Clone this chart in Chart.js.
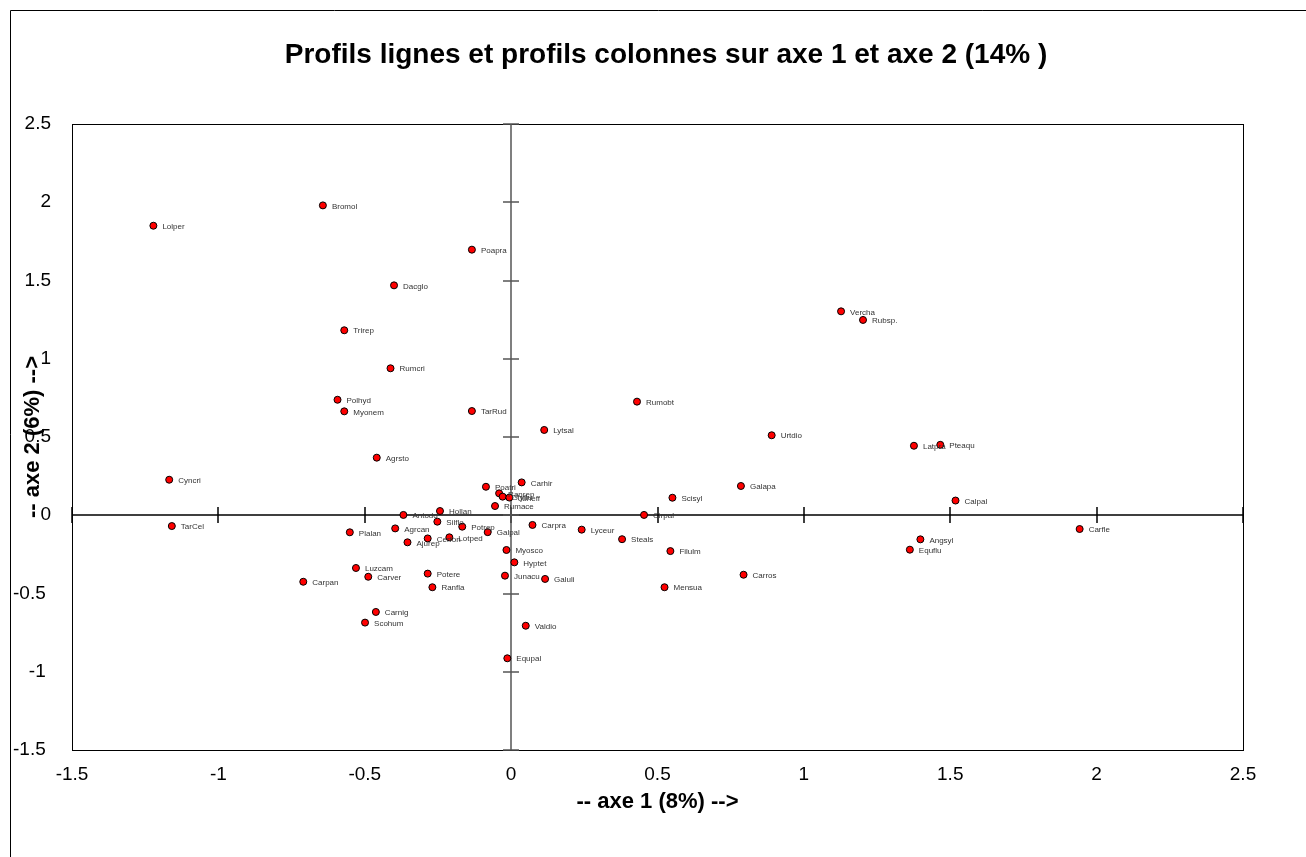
<!DOCTYPE html>
<html lang="fr">
<head>
    <meta charset="UTF-8">
    <title>Profils lignes et profils colonnes</title>
    <script src="https://cdn.jsdelivr.net/npm/chart.js"></script>
    <style>
        body { margin: 0; background: #fff; }
    </style>
</head>
<body>
    <canvas id="afcChart" width="1306" height="857"></canvas>

    <script>
        // Coordonnees des profils (axe 1, axe 2)
        const especes = ['Lolper', 'Bromol', 'Poapra', 'Dacglo', 'Trirep', 'Rumcri', 'Polhyd', 'Myonem', 'TarRud', 'Agrsto',
            'Cyncri', 'TarCel', 'Plalan', 'Carpan', 'Luzcam', 'Carver', 'Potere', 'Ranfla', 'Carnig', 'Scohum',
            'Ajurep', 'Antodo', 'Hollan', 'Silflo', 'Agrcan', 'Potrep', 'Galpal', 'Cerfon', 'Lotped', 'Poatri',
            'Carhir', 'Ranrep', 'Glyflu', 'Juneff', 'Rumace', 'Carpra', 'Myosco', 'Hyptet', 'Junacu', 'Galuli',
            'Valdio', 'Equpal', 'Lyceur', 'Steals', 'Filulm', 'Mensua', 'Carros', 'Cirpal', 'Lytsal', 'Rumobt',
            'Vercha', 'Rubsp.', 'Urtdio', 'Latpra', 'Pteaqu', 'Galapa', 'Scisyl', 'Calpal', 'Carfle', 'Angsyl', 'Equflu'];
        const axe1 = [-1.222, -0.643, -0.134, -0.400, -0.570, -0.412, -0.593, -0.570, -0.134, -0.459,
            -1.168, -1.159, -0.551, -0.710, -0.530, -0.488, -0.285, -0.269, -0.462, -0.499,
            -0.354, -0.368, -0.243, -0.252, -0.396, -0.167, -0.080, -0.285, -0.211, -0.086,
            0.036, -0.041, -0.029, -0.006, -0.055, 0.073, -0.016, 0.011, -0.021, 0.116,
            0.050, -0.013, 0.241, 0.379, 0.544, 0.524, 0.794, 0.454, 0.113, 0.430,
            1.127, 1.202, 0.890, 1.376, 1.466, 0.785, 0.551, 1.518, 1.942, 1.398, 1.362];
        const axe2 = [1.850, 1.980, 1.697, 1.469, 1.182, 0.939, 0.738, 0.664, 0.666, 0.368,
            0.227, -0.069, -0.109, -0.425, -0.337, -0.393, -0.373, -0.460, -0.618, -0.686,
            -0.173, 0.002, 0.027, -0.041, -0.084, -0.073, -0.108, -0.148, -0.141, 0.182,
            0.210, 0.140, 0.119, 0.113, 0.059, -0.062, -0.222, -0.301, -0.386, -0.407,
            -0.706, -0.914, -0.092, -0.153, -0.229, -0.460, -0.380, 0.002, 0.545, 0.726,
            1.303, 1.248, 0.511, 0.444, 0.450, 0.187, 0.112, 0.094, -0.088, -0.154, -0.220];

        // bornes et pas des axes
        const xMin = -1.5, xMax = 2.5;
        const yMin = -1.5, yMax = 2.5;
        const pas = 0.5;

        const titre = 'Profils lignes et profils colonnes sur axe 1 et axe 2 (14% )';
        const police = '"Liberation Sans", Arial, sans-serif';

        const points = especes.map((nom, i) => ({ x: axe1[i], y: axe2[i] }));

        // cadre, titre, axes croises en 0 et etiquettes des points
        const afcPlugin = {
            id: 'afcPlugin',
            beforeDraw(chart) {
                const ctx = chart.ctx;
                ctx.save();
                ctx.fillStyle = '#fff';
                ctx.fillRect(0, 0, chart.width, chart.height);
                ctx.strokeStyle = '#000';
                ctx.lineWidth = 1;
                ctx.beginPath();
                ctx.moveTo(10.5, chart.height + 5);
                ctx.lineTo(10.5, 10.5);
                ctx.lineTo(chart.width + 5, 10.5);
                ctx.stroke();

                ctx.fillStyle = '#000';
                ctx.font = 'bold 28px ' + police;
                ctx.textAlign = 'center';
                ctx.textBaseline = 'middle';
                ctx.fillText(titre, 666, 55);
                ctx.restore();
            },
            beforeDatasetsDraw(chart) {
                const ctx = chart.ctx;
                const a = chart.chartArea;
                const xs = chart.scales.x, ys = chart.scales.y;
                const x0 = Math.round(xs.getPixelForValue(0));
                const y0 = Math.round(ys.getPixelForValue(0));
                ctx.save();
                ctx.strokeStyle = '#000';
                ctx.lineWidth = 1;
                ctx.strokeRect(a.left + 0.5, a.top + 0.5, a.right - a.left, a.bottom - a.top);

                // axe horizontal
                ctx.lineWidth = 1.5;
                ctx.beginPath();
                ctx.moveTo(a.left, y0);
                ctx.lineTo(a.right, y0);
                xs.ticks.forEach(t => {
                    const px = Math.round(xs.getPixelForValue(t.value));
                    ctx.moveTo(px, y0 - 8);
                    ctx.lineTo(px, y0 + 8);
                });
                ctx.stroke();

                // axe vertical
                ctx.strokeStyle = '#555';
                ctx.beginPath();
                ctx.moveTo(x0, a.top);
                ctx.lineTo(x0, a.bottom);
                ys.ticks.forEach(t => {
                    const py = Math.round(ys.getPixelForValue(t.value));
                    ctx.moveTo(x0 - 8, py);
                    ctx.lineTo(x0 + 8, py);
                });
                ctx.stroke();
                ctx.restore();
            },
            afterDatasetsDraw(chart) {
                const ctx = chart.ctx;
                const meta = chart.getDatasetMeta(0);
                ctx.save();
                ctx.font = '8px ' + police;
                ctx.fillStyle = '#333';
                ctx.textBaseline = 'middle';
                meta.data.forEach((el, i) => {
                    ctx.fillText(especes[i], el.x + 9, el.y + 1);
                });
                ctx.restore();
            }
        };

        const ctx = document.getElementById('afcChart').getContext('2d');
        new Chart(ctx, {
            type: 'scatter',
            data: {
                datasets: [{
                    label: 'Profils',
                    data: points,
                    backgroundColor: '#ff0000',
                    borderColor: '#000',
                    borderWidth: 1,
                    pointRadius: 3.5,
                    pointHoverRadius: 3.5
                }]
            },
            options: {
                responsive: false,
                animation: false,
                layout: { padding: { top: 124, right: 63, bottom: 0, left: 0 } },
                plugins: {
                    legend: { display: false },
                    tooltip: { enabled: false },
                    title: { display: false }
                },
                scales: {
                    x: {
                        type: 'linear',
                        min: xMin,
                        max: xMax,
                        grid: { display: false, drawTicks: false },
                        border: { display: false },
                        ticks: {
                            stepSize: pas,
                            padding: 13,
                            color: '#000',
                            font: { family: police, size: 19 },
                            callback: v => String(v)
                        },
                        title: {
                            display: true,
                            text: '-- axe 1 (8%) -->',
                            color: '#000',
                            font: { family: police, size: 22, weight: 'bold', lineHeight: 1.2 },
                            padding: { top: 0, bottom: 42 }
                        },
                        afterFit(scale) { scale.height = 107; }
                    },
                    y: {
                        type: 'linear',
                        min: yMin,
                        max: yMax,
                        grid: { display: false, drawTicks: false },
                        border: { display: false },
                        ticks: {
                            stepSize: pas,
                            padding: 21,
                            color: '#000',
                            font: { family: police, size: 19 },
                            // les valeurs negatives sont un peu decalees vers la gauche
                            callback: v => (v < 0 ? String(v) + ' ' : String(v))
                        },
                        title: {
                            display: true,
                            text: '-- axe 2 (6%) -->',
                            color: '#000',
                            font: { family: police, size: 22, weight: 'bold', lineHeight: 1.2 },
                            padding: { top: 20, bottom: 0 }
                        },
                        afterFit(scale) { scale.width = 72; }
                    }
                }
            },
            plugins: [afcPlugin]
        });
    </script>
</body>
</html>
